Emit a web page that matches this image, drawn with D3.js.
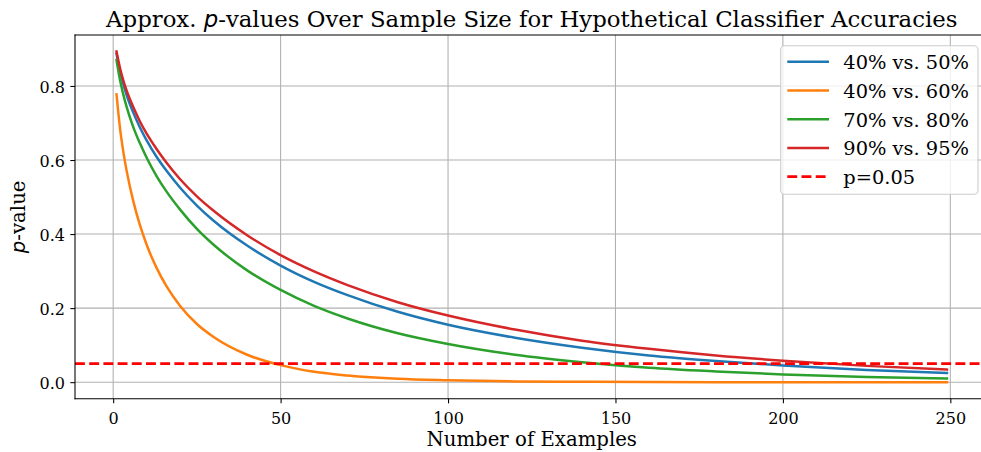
<!DOCTYPE html>
<html>
<head>
<meta charset="utf-8">
<script src="https://cdn.jsdelivr.net/npm/d3@7"></script>
<style>
  body { margin: 0; background: #ffffff; }
  svg { display: block; }
  text { font-family: "DejaVu Serif", serif; fill: #000; }
</style>
</head>
<body>
<svg id="chart" width="981" height="452"></svg>
<script>
// Sample sizes (number of examples) at which the p-values are given
const sampleSizes = [1, 2, 3, 4, 6, 8, 10, 13, 16, 20, 25, 30, 40, 50, 60, 70, 85, 100, 120, 140, 160, 180, 200, 225, 249];

// Approximate two-sided p-values for each pair of accuracies
const p40vs50 = [0.887, 0.841, 0.806, 0.776, 0.728, 0.688, 0.653, 0.608, 0.570, 0.525, 0.477, 0.436, 0.369, 0.315, 0.271, 0.235, 0.190, 0.155, 0.120, 0.093, 0.072, 0.057, 0.045, 0.033, 0.025];
const p40vs60 = [0.777, 0.689, 0.624, 0.572, 0.489, 0.424, 0.371, 0.308, 0.258, 0.206, 0.157, 0.122, 0.074, 0.046, 0.028, 0.018, 0.009, 0.005, 0.002, 0.001, 0.0003, 0.0001, 0.0001, 0.0, 0.0];
const p70vs80 = [0.870, 0.818, 0.778, 0.744, 0.689, 0.645, 0.606, 0.556, 0.514, 0.466, 0.414, 0.371, 0.302, 0.249, 0.206, 0.172, 0.132, 0.103, 0.074, 0.054, 0.039, 0.029, 0.021, 0.014, 0.010];
const p90vs95 = [0.893, 0.850, 0.816, 0.788, 0.743, 0.704, 0.671, 0.629, 0.592, 0.548, 0.502, 0.463, 0.397, 0.343, 0.299, 0.262, 0.216, 0.180, 0.142, 0.112, 0.090, 0.072, 0.058, 0.044, 0.034];

const seriesLabels = ["40% vs. 50%", "40% vs. 60%", "70% vs. 80%", "90% vs. 95%"];
const seriesValues = [p40vs50, p40vs60, p70vs80, p90vs95];
const seriesColors = ["#1f77b4", "#ff7f0e", "#2ca02c", "#d62728"];

const threshold = 0.05;
const thresholdLabel = "p=0.05";

const xTickValues = [0, 50, 100, 150, 200, 250];
const yTickValues = [0.0, 0.2, 0.4, 0.6, 0.8];

// ---- layout ----
const svg = d3.select("#chart");
const plot = { left: 75, right: 988.5, top: 35, bottom: 398.7 };

const xMin = d3.min(sampleSizes), xMax = d3.max(sampleSizes);
const xPad = (xMax - xMin) * 0.05;
const allValues = seriesValues.flat();
const yMin = d3.min(allValues), yMax = d3.max(allValues);
const yPad = (yMax - yMin) * 0.05;

const x = d3.scaleLinear().domain([xMin - xPad, xMax + xPad]).range([plot.left, plot.right]);
const y = d3.scaleLinear().domain([yMin - yPad, yMax + yPad]).range([plot.bottom, plot.top]);

svg.append("defs").append("clipPath").attr("id", "plot-clip")
  .append("rect")
  .attr("x", plot.left).attr("y", plot.top)
  .attr("width", plot.right - plot.left).attr("height", plot.bottom - plot.top);

// grid
const grid = svg.append("g").attr("class", "grid");
grid.selectAll("line.gx").data(xTickValues).join("line")
  .attr("class", "gx")
  .attr("x1", d => x(d)).attr("x2", d => x(d))
  .attr("y1", plot.top).attr("y2", plot.bottom)
  .attr("stroke", "#b0b0b0").attr("stroke-width", 1.07);
grid.selectAll("line.gy").data(yTickValues).join("line")
  .attr("class", "gy")
  .attr("x1", plot.left).attr("x2", plot.right)
  .attr("y1", d => y(d)).attr("y2", d => y(d))
  .attr("stroke", "#b0b0b0").attr("stroke-width", 1.07);

// curves
const line = d3.line()
  .x(d => x(d[0]))
  .y(d => y(d[1]))
  .curve(d3.curveMonotoneX);

const curves = svg.append("g").attr("clip-path", "url(#plot-clip)");
seriesValues.forEach((vals, i) => {
  const pts = sampleSizes.map((n, j) => [n, vals[j]]);
  curves.append("path")
    .datum(pts)
    .attr("d", line)
    .attr("fill", "none")
    .attr("stroke", seriesColors[i])
    .attr("stroke-width", 2.5)
    .attr("stroke-linejoin", "round")
    .attr("stroke-linecap", "square");
});

// significance threshold
curves.append("line")
  .attr("x1", plot.left).attr("x2", plot.right)
  .attr("y1", y(threshold)).attr("y2", y(threshold))
  .attr("stroke", "#ff0000")
  .attr("stroke-width", 2.67)
  .attr("stroke-dasharray", "9.9 4.3");

// axes
const xAxis = d3.axisBottom(x).tickValues(xTickValues).tickFormat(d3.format("d"))
  .tickSize(4.67).tickSizeOuter(0).tickPadding(8.8);
const yAxis = d3.axisLeft(y).tickValues(yTickValues).tickFormat(d3.format(".1f"))
  .tickSize(4.67).tickSizeOuter(0).tickPadding(5.3);

const gx = svg.append("g").attr("transform", `translate(0,${plot.bottom})`).call(xAxis);
const gy = svg.append("g").attr("transform", `translate(${plot.left},0)`).call(yAxis);
[gx, gy].forEach(g => {
  g.select(".domain").remove();
  g.selectAll(".tick line").attr("stroke", "#000").attr("stroke-width", 1.07);
  g.selectAll(".tick text")
    .attr("font-family", "DejaVu Serif")
    .attr("font-size", 16)
    .attr("fill", "#000");
});
gy.selectAll(".tick text").attr("dy", "0.42em");

// spines (right edge lies beyond the drawing)
const spineStyle = s => s.attr("stroke", "#000").attr("stroke-width", 1.07).attr("stroke-linecap", "square");
spineStyle(svg.append("line").attr("x1", plot.left).attr("x2", plot.left).attr("y1", plot.top).attr("y2", plot.bottom));
spineStyle(svg.append("line").attr("x1", plot.left).attr("x2", plot.right).attr("y1", plot.top).attr("y2", plot.top));
spineStyle(svg.append("line").attr("x1", plot.left).attr("x2", plot.right).attr("y1", plot.bottom).attr("y2", plot.bottom));

// title
const title = svg.append("text")
  .attr("x", (plot.left + plot.right) / 2)
  .attr("y", 26.5)
  .attr("text-anchor", "middle")
  .attr("font-size", 22.8);
title.append("tspan").text("Approx. ");
title.append("tspan").attr("font-family", "DejaVu Sans").attr("font-style", "italic").text("p");
title.append("tspan").text("-values Over Sample Size for Hypothetical Classifier Accuracies");

// axis labels
svg.append("text")
  .attr("x", (plot.left + plot.right) / 2)
  .attr("y", 446)
  .attr("text-anchor", "middle")
  .attr("font-size", 19.7)
  .text("Number of Examples");

const ylab = svg.append("text")
  .attr("transform", `translate(24.5,${(plot.top + plot.bottom) / 2}) rotate(-90)`)
  .attr("text-anchor", "middle")
  .attr("font-size", 19.7);
ylab.append("tspan").attr("font-family", "DejaVu Sans").attr("font-style", "italic").text("p");
ylab.append("tspan").text("-value");

// legend
const legendItems = seriesLabels.map((label, i) => ({ label, color: seriesColors[i], dash: null, width: 2.5 }))
  .concat([{ label: thresholdLabel, color: "#ff0000", dash: "9.9 4.3", width: 2.67 }]);

const legend = svg.append("g").attr("transform", "translate(780.7,45.7)");
legend.append("rect")
  .attr("x", 0).attr("y", 0)
  .attr("width", 197.3).attr("height", 148.6)
  .attr("rx", 4).attr("ry", 4)
  .attr("fill", "#ffffff").attr("fill-opacity", 0.8)
  .attr("stroke", "#cccccc").attr("stroke-width", 1.07);

const rowStep = 28.75;
const rows = legend.selectAll("g.item").data(legendItems).join("g")
  .attr("class", "item")
  .attr("transform", (d, i) => `translate(0,${16 + i * rowStep})`);
rows.append("line")
  .attr("x1", 6.6).attr("x2", 48.3)
  .attr("y1", 0).attr("y2", 0)
  .attr("stroke", d => d.color)
  .attr("stroke-width", d => d.width)
  .attr("stroke-dasharray", d => d.dash);
rows.append("text")
  .attr("x", 62.6).attr("y", 7.3)
  .attr("font-size", 19.4)
  .text(d => d.label);
</script>
</body>
</html>
